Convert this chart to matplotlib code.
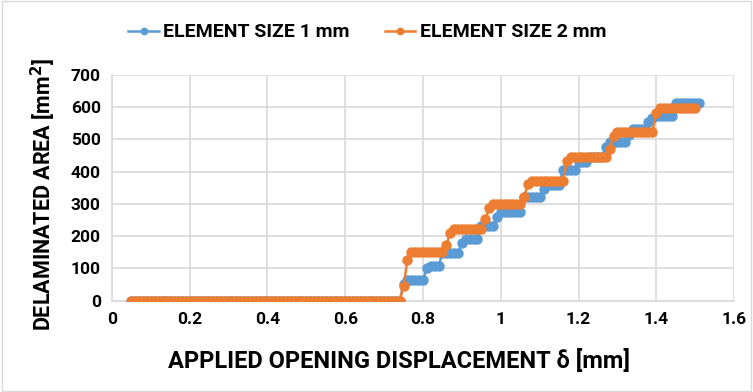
import numpy as np
import matplotlib
matplotlib.use("Agg")
import matplotlib.pyplot as plt
from matplotlib.patches import Rectangle

# displacement increments of the analysis (mm)
disp_1mm = np.round(np.arange(0.05, 1.515, 0.01), 2)
disp_2mm = np.round(np.arange(0.05, 1.505, 0.01), 2)

# step levels: displacement where a level starts, and the area (mm^2)
start_1mm = [0.05, 0.75, 0.76, 0.81, 0.82, 0.85, 0.90, 0.91, 0.95, 0.99, 1.00,
             1.06, 1.11, 1.12, 1.16, 1.20, 1.23, 1.27, 1.28, 1.33, 1.34, 1.38,
             1.39, 1.40, 1.45]
area_1mm = [0, 50, 63, 100, 107, 147, 180, 190, 232, 260, 276,
            321, 345, 360, 405, 430, 445, 478, 493, 514, 531, 555,
            565, 573, 613]

start_2mm = [0.05, 0.75, 0.76, 0.77, 0.86, 0.87, 0.88, 0.96, 0.97, 0.98, 1.06,
             1.07, 1.08, 1.17, 1.18, 1.28, 1.29, 1.30, 1.40, 1.41]
area_2mm = [0, 45, 126, 150, 172, 210, 222, 252, 286, 300, 322,
            362, 372, 432, 446, 470, 512, 524, 581, 597]


def expand(disp, starts, levels):
    idx = np.searchsorted(np.array(starts), disp + 1e-9, side="right") - 1
    return np.array(levels)[idx]


y1 = expand(disp_1mm, start_1mm, area_1mm)
y2 = expand(disp_2mm, start_2mm, area_2mm)

plt.rcParams["font.family"] = ["Roboto", "DejaVu Sans"]
plt.rcParams["font.weight"] = "bold"
plt.rcParams["mathtext.default"] = "bf"

fig = plt.figure(figsize=(7.53, 3.92), dpi=100)
ax = fig.add_axes([0.1487, 0.2334, 0.8261, 0.5753])

ax.plot(disp_1mm, y1, color="#5B9BD5", lw=1.8, marker="o", ms=6.5,
        label="ELEMENT SIZE 1 mm", zorder=3)
ax.plot(disp_2mm, y2, color="#ED7D31", lw=1.8, marker="o", ms=6.5,
        label="ELEMENT SIZE 2 mm", zorder=4)

ax.set_xlim(0, 1.6)
ax.set_ylim(0, 700)
ax.set_xticks(np.arange(0, 1.61, 0.2))
ax.set_xticklabels(["0", "0.2", "0.4", "0.6", "0.8", "1", "1.2", "1.4", "1.6"])
ax.set_yticks(np.arange(0, 701, 100))
ax.grid(True, color="#D9D9D9", lw=1.2)
ax.set_axisbelow(True)
for s in ["top", "right"]:
    ax.spines[s].set_visible(False)
for s in ["left", "bottom"]:
    ax.spines[s].set_color("#D9D9D9")
    ax.spines[s].set_linewidth(1.2)
ax.tick_params(length=0, labelsize=12.5, pad=8)
for lab in ax.get_xticklabels() + ax.get_yticklabels():
    lab.set_fontweight("bold")

ax.set_xlabel("APPLIED OPENING DISPLACEMENT δ [mm]", fontsize=17,
              fontweight="bold", labelpad=16)
ax.set_ylabel("DELAMINATED AREA [mm$^2$]", fontsize=15.5,
              fontweight="bold", labelpad=9)
ax.xaxis.label.set_x(0.461)
ax.yaxis.label.set_y(0.47)

fig.legend(loc="upper center", bbox_to_anchor=(0.488, 0.985), ncol=2,
           frameon=False, handlelength=1.55, handletextpad=0.25,
           columnspacing=1.8, markerscale=0.7,
           prop={"weight": "bold", "size": 14})

fig.patches.append(Rectangle((0.002, 0.003), 0.996, 0.994, transform=fig.transFigure,
                             fill=False, edgecolor="#D9D9D9", lw=1))

fig.savefig("out.png", dpi=100)
